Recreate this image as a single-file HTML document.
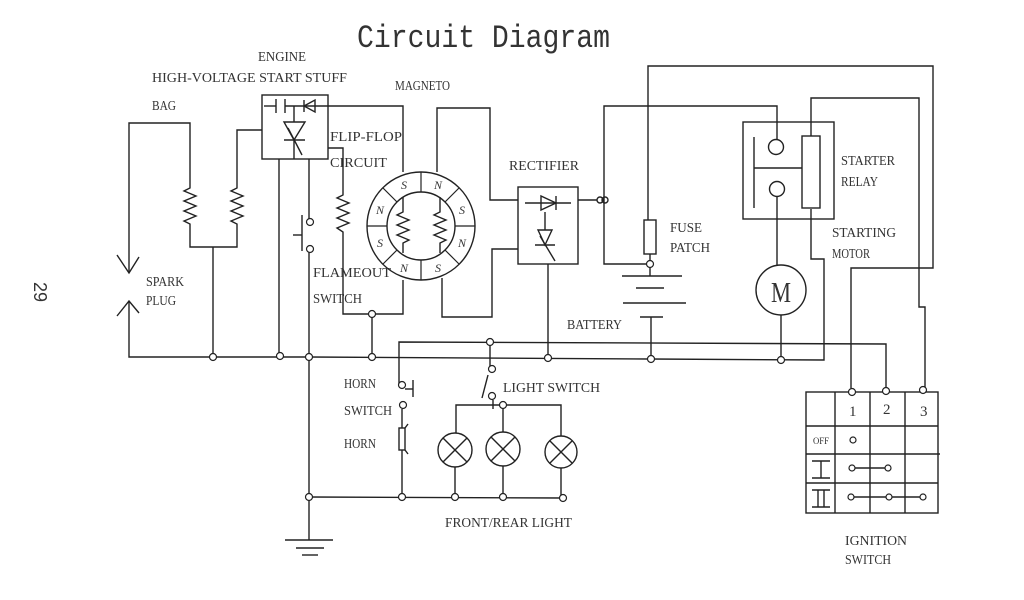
<!DOCTYPE html>
<html><head><meta charset="utf-8"><style>
html,body{margin:0;padding:0;background:#fff;}
svg{display:block;}
text{font-family:"Liberation Serif",serif;fill:#333;}
.l{font-size:14px;}
</style></head><body>
<svg width="1024" height="600" viewBox="0 0 1024 600" xmlns="http://www.w3.org/2000/svg">
<g fill="none" stroke="#222" stroke-width="1.4">
<polyline points="190,184 190,123 129,123 129,273"/>
<polyline points="117,255 129,273 139,257"/>
<polyline points="117,316 129,301 139,313"/>
<polyline points="129,301 129,357 309,357"/>
<polyline points="309,357 650,359 824,360 824,259 811,259 811,209"/>
<polyline points="190,184 190,188 184,191 196,196 184,201 196,206 184,211 196,216 184,221 190,224 190,247 237,247 237,224 231,221 243,216 231,211 243,206 231,201 243,196 231,191 237,188 237,130 262,130"/>
<line x1="213" y1="247" x2="213" y2="356"/>
<rect x="262" y="95" width="66" height="64"/>
<line x1="264" y1="106" x2="276" y2="106"/><line x1="276" y1="99" x2="276" y2="113"/><line x1="285" y1="99" x2="285" y2="113"/>
<line x1="285" y1="106" x2="328" y2="106"/>
<polygon points="304,106 315,100 315,112"/><line x1="304" y1="100" x2="304" y2="112"/>
<line x1="294" y1="106" x2="294" y2="122"/>
<polygon points="284,122 305,122 294,140"/><line x1="284" y1="140" x2="305" y2="140"/><line x1="288" y1="128" x2="302" y2="155"/>
<line x1="294" y1="140" x2="294" y2="159"/>
<line x1="279" y1="159" x2="279" y2="354"/>
<line x1="309" y1="159" x2="309" y2="219"/>
<polyline points="328,106 403,106 403,172"/>
<line x1="302" y1="215" x2="302" y2="251"/><line x1="293" y1="235" x2="302" y2="235"/>
<line x1="309" y1="252" x2="309" y2="540"/>
<polyline points="328,148 343,148 343,195 337,198 349,203 337,208 349,213 337,218 349,223 337,228 343,232 343,314 403,314 403,280"/>
<line x1="372" y1="317" x2="372" y2="355"/>
<circle cx="421" cy="226" r="54"/><circle cx="421" cy="226" r="34"/>
<g stroke-width="1.2">
<line x1="421" y1="172" x2="421" y2="192"/><line x1="421" y1="260" x2="421" y2="280"/>
<line x1="367" y1="226" x2="387" y2="226"/><line x1="455" y1="226" x2="475" y2="226"/>
<line x1="383" y1="188" x2="397" y2="202"/><line x1="445" y1="250" x2="459" y2="264"/>
<line x1="459" y1="188" x2="445" y2="202"/><line x1="397" y1="250" x2="383" y2="264"/>
</g>
<polyline points="403,197 403,212 397,215 409,220 397,225 409,230 397,235 409,240 403,243 403,253"/>
<polyline points="440,197 440,212 434,215 446,220 434,225 446,230 434,235 446,240 440,243 440,253"/>
<polyline points="437,172 437,108 490,108 490,200 518,200"/>
<polyline points="442,278 442,317 492,317 492,249 518,249"/>
<rect x="518" y="187" width="60" height="77"/>
<line x1="525" y1="203" x2="571" y2="203"/>
<polygon points="541,196 541,210 556,203"/><line x1="556" y1="196" x2="556" y2="210"/>
<line x1="545" y1="212" x2="545" y2="230"/>
<polygon points="538,230 552,230 545,245"/><line x1="535" y1="245" x2="555" y2="245"/><line x1="540" y1="236" x2="555" y2="261"/>
<line x1="548" y1="264" x2="548" y2="357"/>
<line x1="578" y1="200" x2="597" y2="200"/>
<circle cx="600" cy="200" r="3"/><circle cx="605" cy="200" r="3"/>
<polyline points="604,200 604,106 777,106 777,140"/>
<polyline points="604,200 604,264 647,264"/>
<polyline points="648,203 648,66 933,66 933,268 851,268 851,388"/>
<line x1="648" y1="203" x2="648" y2="220"/>
<rect x="644" y="220" width="12" height="34"/>
<line x1="650" y1="254" x2="650" y2="261"/>
<line x1="650" y1="267" x2="650" y2="276"/>
<line x1="622" y1="276" x2="682" y2="276"/><line x1="636" y1="288" x2="664" y2="288"/>
<line x1="623" y1="303" x2="686" y2="303"/><line x1="640" y1="317" x2="663" y2="317"/>
<line x1="651" y1="317" x2="651" y2="357"/>
<rect x="743" y="122" width="91" height="97"/>
<line x1="754" y1="137" x2="754" y2="208"/><line x1="754" y1="168" x2="802" y2="168"/>
<circle cx="776" cy="147" r="7.5"/><circle cx="777" cy="189" r="7.5"/>
<rect x="802" y="136" width="18" height="72"/>
<polyline points="811,136 811,98 919,98 919,307 925,307 925,387"/>
<line x1="777" y1="197" x2="777" y2="265"/>
<circle cx="781" cy="290" r="25"/>
<line x1="781" y1="315" x2="781" y2="357"/>
<polyline points="399,385 399,342 886,344 886,388"/>
<line x1="402" y1="409" x2="402" y2="428"/>
<line x1="413" y1="380" x2="413" y2="397"/><line x1="405" y1="389" x2="413" y2="389"/>
<rect x="399" y="428" width="6" height="22"/><line x1="405" y1="428" x2="408" y2="424"/><line x1="405" y1="450" x2="408" y2="454"/>
<line x1="402" y1="450" x2="402" y2="497"/>
<line x1="490" y1="345" x2="490" y2="366"/>
<line x1="488" y1="375" x2="482" y2="398"/>
<line x1="493" y1="400" x2="493" y2="409"/>
<polyline points="456,433 456,405 561,405 561,436"/>
<line x1="503" y1="405" x2="503" y2="432"/>
<circle cx="455" cy="450" r="17"/><circle cx="503" cy="449" r="17"/><circle cx="561" cy="452" r="16"/>
<line x1="443" y1="438" x2="467" y2="462"/><line x1="467" y1="438" x2="443" y2="462"/>
<line x1="491" y1="437" x2="515" y2="461"/><line x1="515" y1="437" x2="491" y2="461"/>
<line x1="550" y1="441" x2="572" y2="463"/><line x1="572" y1="441" x2="550" y2="463"/>
<line x1="455" y1="467" x2="455" y2="497"/><line x1="503" y1="466" x2="503" y2="497"/><line x1="561" y1="468" x2="561" y2="496"/>
<line x1="309" y1="497" x2="563" y2="498"/>
<line x1="285" y1="540" x2="333" y2="540"/><line x1="296" y1="548" x2="324" y2="548"/><line x1="302" y1="555" x2="318" y2="555"/>
<rect x="806" y="392" width="132" height="121"/>
<line x1="835" y1="392" x2="835" y2="513"/><line x1="870" y1="392" x2="870" y2="513"/><line x1="905" y1="392" x2="905" y2="513"/>
<line x1="806" y1="426" x2="938" y2="426"/><line x1="806" y1="454" x2="940" y2="454"/><line x1="806" y1="483" x2="938" y2="483"/>
<line x1="812" y1="461" x2="830" y2="461"/><line x1="812" y1="478" x2="830" y2="478"/><line x1="821" y1="461" x2="821" y2="478"/>
<line x1="812" y1="490" x2="830" y2="490"/><line x1="812" y1="507" x2="830" y2="507"/><line x1="818" y1="490" x2="818" y2="507"/><line x1="824" y1="490" x2="824" y2="507"/>
<line x1="855" y1="468" x2="885" y2="468"/>
<line x1="854" y1="497" x2="920" y2="497"/>
</g>
<g fill="#fff" stroke="#222" stroke-width="1.2">
<circle cx="213" cy="357" r="3.5"/><circle cx="280" cy="356" r="3.5"/><circle cx="309" cy="357" r="3.5"/><circle cx="372" cy="357" r="3.5"/>
<circle cx="372" cy="314" r="3.5"/><circle cx="310" cy="222" r="3.5"/><circle cx="310" cy="249" r="3.5"/>
<circle cx="548" cy="358" r="3.5"/><circle cx="651" cy="359" r="3.5"/><circle cx="781" cy="360" r="3.5"/>
<circle cx="650" cy="264" r="3.5"/>
<circle cx="490" cy="342" r="3.5"/><circle cx="492" cy="369" r="3.5"/><circle cx="492" cy="396" r="3.5"/><circle cx="503" cy="405" r="3.5"/>
<circle cx="402" cy="385" r="3.5"/><circle cx="403" cy="405" r="3.5"/>
<circle cx="309" cy="497" r="3.5"/><circle cx="402" cy="497" r="3.5"/><circle cx="455" cy="497" r="3.5"/><circle cx="503" cy="497" r="3.5"/><circle cx="563" cy="498" r="3.5"/>
<circle cx="852" cy="392" r="3.5"/><circle cx="886" cy="391" r="3.5"/><circle cx="923" cy="390" r="3.5"/>
<circle cx="853" cy="440" r="3"/><circle cx="852" cy="468" r="3"/><circle cx="888" cy="468" r="3"/>
<circle cx="851" cy="497" r="3"/><circle cx="889" cy="497" r="3"/><circle cx="923" cy="497" r="3"/>
</g>
<g font-size="12" text-anchor="middle" style="font-style:italic">
<text x="404" y="189">S</text><text x="438" y="189">N</text><text x="462" y="214">S</text><text x="462" y="247">N</text>
<text x="438" y="272">S</text><text x="404" y="272">N</text><text x="380" y="247">S</text><text x="380" y="214">N</text>
</g>
<text x="357" y="47" font-size="32" textLength="253" lengthAdjust="spacingAndGlyphs" style="font-family:'Liberation Mono',monospace">Circuit Diagram</text>
<text x="0" y="0" font-size="18" transform="translate(34,292) rotate(90)" text-anchor="middle" style="font-family:'Liberation Sans',sans-serif">29</text>
<g class="l" font-size="14">
<text x="258" y="61" textLength="48" lengthAdjust="spacingAndGlyphs">ENGINE</text>
<text x="152" y="82" textLength="195" lengthAdjust="spacingAndGlyphs">HIGH-VOLTAGE START STUFF</text>
<text x="152" y="110" textLength="24" lengthAdjust="spacingAndGlyphs">BAG</text>
<text x="395" y="90" textLength="55" lengthAdjust="spacingAndGlyphs">MAGNETO</text>
<text x="330" y="141" textLength="72" lengthAdjust="spacingAndGlyphs">FLIP-FLOP</text>
<text x="330" y="167" textLength="57" lengthAdjust="spacingAndGlyphs">CIRCUIT</text>
<text x="313" y="277" textLength="78" lengthAdjust="spacingAndGlyphs">FLAMEOUT</text>
<text x="313" y="303" textLength="49" lengthAdjust="spacingAndGlyphs">SWITCH</text>
<text x="146" y="286" textLength="38" lengthAdjust="spacingAndGlyphs">SPARK</text>
<text x="146" y="305" textLength="30" lengthAdjust="spacingAndGlyphs">PLUG</text>
<text x="509" y="170" textLength="70" lengthAdjust="spacingAndGlyphs">RECTIFIER</text>
<text x="670" y="232" textLength="32" lengthAdjust="spacingAndGlyphs">FUSE</text>
<text x="670" y="252" textLength="40" lengthAdjust="spacingAndGlyphs">PATCH</text>
<text x="567" y="329" textLength="55" lengthAdjust="spacingAndGlyphs">BATTERY</text>
<text x="841" y="165" textLength="54" lengthAdjust="spacingAndGlyphs">STARTER</text>
<text x="841" y="186" textLength="37" lengthAdjust="spacingAndGlyphs">RELAY</text>
<text x="832" y="237" textLength="64" lengthAdjust="spacingAndGlyphs">STARTING</text>
<text x="832" y="258" textLength="38" lengthAdjust="spacingAndGlyphs">MOTOR</text>
<text x="344" y="388" textLength="32" lengthAdjust="spacingAndGlyphs">HORN</text>
<text x="344" y="415" textLength="48" lengthAdjust="spacingAndGlyphs">SWITCH</text>
<text x="344" y="448" textLength="32" lengthAdjust="spacingAndGlyphs">HORN</text>
<text x="503" y="392" textLength="97" lengthAdjust="spacingAndGlyphs">LIGHT SWITCH</text>
<text x="445" y="527" textLength="127" lengthAdjust="spacingAndGlyphs">FRONT/REAR LIGHT</text>
<text x="845" y="545" textLength="62" lengthAdjust="spacingAndGlyphs">IGNITION</text>
<text x="845" y="564" textLength="46" lengthAdjust="spacingAndGlyphs">SWITCH</text>
<text x="849" y="416" font-size="15">1</text><text x="883" y="414" font-size="15">2</text><text x="920" y="416" font-size="15">3</text>
<text x="813" y="444" font-size="9" textLength="16" lengthAdjust="spacingAndGlyphs">OFF</text>
<text x="771" y="302" font-size="28" textLength="20" lengthAdjust="spacingAndGlyphs">M</text>
</g>
</svg>
</body></html>
